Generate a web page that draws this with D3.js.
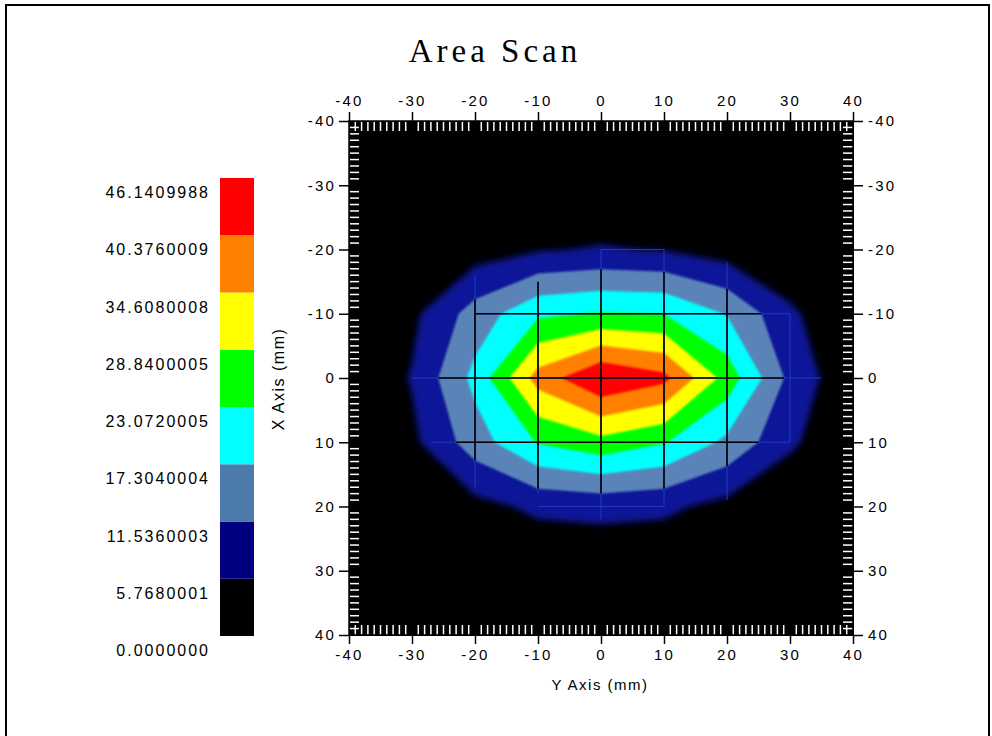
<!DOCTYPE html>
<html>
<head>
<meta charset="utf-8">
<script src="https://cdn.jsdelivr.net/npm/d3@7"></script>
<style>
body { margin: 0; background: #fff; }
text { font-family: "Liberation Sans", Arial, sans-serif; fill: #000; }
</style>
</head>
<body>
<div id="chart"></div>
<script>
// scan grid (mm): columns along the Y axis (left to right), rows along the X axis (top to bottom)
var yPositions = [-40, -30, -20, -10, 0, 10, 20, 30, 40];
var xPositions = [-40, -30, -20, -10, 0, 10, 20, 30, 40];
var scanRows = [
  [0, 0,   0,    0,    0,    0,    0,    0,  0],
  [0, 0,   0,    0.3,  0.5,  0.5,  0,    0,  0],
  [0, 0,   3,    5.3,  6.2,  5.5,  3,    0,  0],
  [0, 4.5, 14,   22,   23.5, 23,   17,   7,  0],
  [0, 6.2, 19,   37,   46,   42,   26.5, 10, 1],
  [0, 4.5, 14.5, 23.5, 27,   23.5, 16,   7,  0],
  [0, 0,   4,    7,    7.6,  7,    4,    0,  0],
  [0, 0,   0,    0.8,  1,    0.8,  0,    0,  0],
  [0, 0,   0,    0,    0,    0,    0,    0,  0]
];

// contour levels and legend
var levels = [0, 5.7680001, 11.5360003, 17.3040004, 23.0720005, 28.8400005, 34.6080008, 40.3760009, 46.1409988];
var levelLabels = ["0.0000000", "5.7680001", "11.5360003", "17.3040004", "23.0720005",
                   "28.8400005", "34.6080008", "40.3760009", "46.1409988"];
var levelColors = ["#000000", "#0a1898", "#5a84b8", "#00ffff", "#00ff00", "#ffff00", "#ff8000", "#ff0000"];

// mesh lines over the map: [position, from, to] in mm
var meshRows = [[-20, 0, 10], [-10, -20, 30], [0, -30, 35], [10, -27, 30], [20, -10, 10]];
var meshCols = [[-20, -16, 17], [-10, -15, 18], [0, -20, 22], [10, -20, 20], [20, -18, 19], [30, -10, 10]];

var axisTicks = d3.range(-40, 41, 10);

var W = 992, H = 736;
var svg = d3.select("#chart").append("svg")
  .attr("width", W)
  .attr("height", H);

// outer frame
svg.append("rect")
  .attr("x", 6).attr("y", 5)
  .attr("width", 983).attr("height", 760)
  .attr("fill", "#fff")
  .attr("stroke", "#000")
  .attr("stroke-width", 2);

// title
svg.append("text")
  .attr("x", 495).attr("y", 62)
  .attr("text-anchor", "middle")
  .style("font-family", "'Liberation Serif', 'Times New Roman', serif")
  .style("font-size", "33px")
  .style("letter-spacing", "4px")
  .text("Area Scan");

// plot area
var pL = 349, pR = 853, pT = 121, pB = 635;
var x = d3.scaleLinear().domain([-40, 40]).range([pL, pR]);
var y = d3.scaleLinear().domain([-40, 40]).range([pT, pB]);

var defs = svg.append("defs");
defs.append("clipPath").attr("id", "plotclip")
  .append("rect")
  .attr("x", pL).attr("y", pT)
  .attr("width", pR - pL).attr("height", pB - pT);
defs.append("filter").attr("id", "soft")
  .attr("x", "-10%").attr("y", "-10%").attr("width", "120%").attr("height", "120%")
  .append("feGaussianBlur").attr("stdDeviation", 3.5);
defs.append("filter").attr("id", "softer")
  .append("feGaussianBlur").attr("stdDeviation", 0.8);

svg.append("rect")
  .attr("x", pL).attr("y", pT)
  .attr("width", pR - pL).attr("height", pB - pT)
  .attr("fill", "#000");

// contours on the node grid, node i sits at grid coord i + 0.5
var nx = yPositions.length, ny = xPositions.length;
var values = [];
scanRows.forEach(function(r) { r.forEach(function(v) { values.push(v); }); });

var contours = d3.contours()
  .size([nx, ny])
  .thresholds(levels.slice(1, 8))(values);

var gx = d3.scaleLinear().domain([0.5, nx - 0.5]).range([x(yPositions[0]), x(yPositions[nx - 1])]);
var gy = d3.scaleLinear().domain([0.5, ny - 0.5]).range([y(xPositions[0]), y(xPositions[ny - 1])]);
var path = d3.geoPath(d3.geoTransform({
  point: function(px, py) { this.stream.point(gx(px), gy(py)); }
}));

var map = svg.append("g").attr("clip-path", "url(#plotclip)");
map.selectAll("path.band")
  .data(contours)
  .enter().append("path")
  .attr("class", "band")
  .attr("d", path)
  .attr("fill", function(d, i) { return levelColors[i + 1]; })
  .attr("filter", function(d, i) { return i == 0 ? "url(#soft)" : "url(#softer)"; });

// clip for the black mesh: everything above the second level
defs.append("clipPath").attr("id", "innerclip")
  .append("path").attr("d", path(contours[1]));

function drawMesh(g, color, w) {
  g.selectAll("line.mr").data(meshRows).enter().append("line")
    .attr("x1", function(d) { return x(d[1]); })
    .attr("x2", function(d) { return x(d[2]); })
    .attr("y1", function(d) { return y(d[0]); })
    .attr("y2", function(d) { return y(d[0]); })
    .attr("stroke", color).attr("stroke-width", w);
  g.selectAll("line.mc").data(meshCols).enter().append("line")
    .attr("x1", function(d) { return x(d[0]); })
    .attr("x2", function(d) { return x(d[0]); })
    .attr("y1", function(d) { return y(d[1]); })
    .attr("y2", function(d) { return y(d[2]); })
    .attr("stroke", color).attr("stroke-width", w);
}
drawMesh(svg.append("g").attr("clip-path", "url(#plotclip)"), "#2236c4", 1.1);
drawMesh(svg.append("g").attr("clip-path", "url(#innerclip)"), "#000", 1.6);

// minor ticks (white, inside the frame)
var minor = d3.range(-39, 40).filter(function(d) { return d % 10 != 0; });
var ticks = svg.append("g").attr("stroke", "#fff").attr("stroke-width", 1.5);
minor.forEach(function(d) {
  ticks.append("line").attr("x1", x(d)).attr("x2", x(d)).attr("y1", pT).attr("y2", pT + 10);
  ticks.append("line").attr("x1", x(d)).attr("x2", x(d)).attr("y1", pB - 10).attr("y2", pB);
  ticks.append("line").attr("y1", y(d)).attr("y2", y(d)).attr("x1", pL).attr("x2", pL + 10);
  ticks.append("line").attr("y1", y(d)).attr("y2", y(d)).attr("x1", pR - 10).attr("x2", pR);
});

svg.append("rect")
  .attr("x", pL).attr("y", pT)
  .attr("width", pR - pL).attr("height", pB - pT)
  .attr("fill", "none").attr("stroke", "#000").attr("stroke-width", 1.5);

// axes
var fmt = function(d) { return String(d); };
function styleAxis(g) {
  g.selectAll("text").style("font-size", "15px").style("letter-spacing", "2.2px")
    .style("font-family", "'Liberation Sans', Arial, sans-serif");
  g.selectAll("line").attr("stroke-width", 1.5);
}
svg.append("g").attr("transform", "translate(0," + pT + ")")
  .call(d3.axisTop(x).tickValues(axisTicks).tickSize(9).tickSizeOuter(0).tickPadding(6).tickFormat(fmt))
  .call(styleAxis);
svg.append("g").attr("transform", "translate(0," + pB + ")")
  .call(d3.axisBottom(x).tickValues(axisTicks).tickSize(9).tickSizeOuter(0).tickPadding(5).tickFormat(fmt))
  .call(styleAxis);
svg.append("g").attr("transform", "translate(" + pL + ",0)")
  .call(d3.axisLeft(y).tickValues(axisTicks).tickSize(10).tickSizeOuter(0).tickPadding(3).tickFormat(fmt))
  .call(styleAxis);
svg.append("g").attr("transform", "translate(" + pR + ",0)")
  .call(d3.axisRight(y).tickValues(axisTicks).tickSize(10).tickSizeOuter(0).tickPadding(5).tickFormat(fmt))
  .call(styleAxis);

// axis titles
svg.append("text")
  .attr("x", 600).attr("y", 690)
  .attr("text-anchor", "middle")
  .style("font-size", "15px").style("letter-spacing", "1.5px")
  .text("Y Axis (mm)");
svg.append("text")
  .attr("transform", "translate(284,379) rotate(-90)")
  .attr("text-anchor", "middle")
  .style("font-size", "16px").style("letter-spacing", "1.5px")
  .text("X Axis (mm)");

// colour bar
var barX = 220, barW = 34;
var by = d3.scaleLinear().domain([0, levels.length - 1]).range([636, 178]);
svg.selectAll("rect.key")
  .data(levelColors)
  .enter().append("rect")
  .attr("class", "key")
  .attr("x", barX).attr("width", barW)
  .attr("y", function(d, i) { return by(i + 1); })
  .attr("height", function(d, i) { return by(i) - by(i + 1); })
  .attr("fill", function(d, i) { return i == 1 ? "#000080" : (i == 2 ? "#4c7aaa" : d); });
svg.selectAll("text.key")
  .data(levelLabels)
  .enter().append("text")
  .attr("class", "key")
  .attr("x", 210)
  .attr("y", function(d, i) { return by(i) + 20; })
  .attr("text-anchor", "end")
  .style("font-size", "16px").style("letter-spacing", "2px")
  .text(function(d) { return d; });
</script>
</body>
</html>
